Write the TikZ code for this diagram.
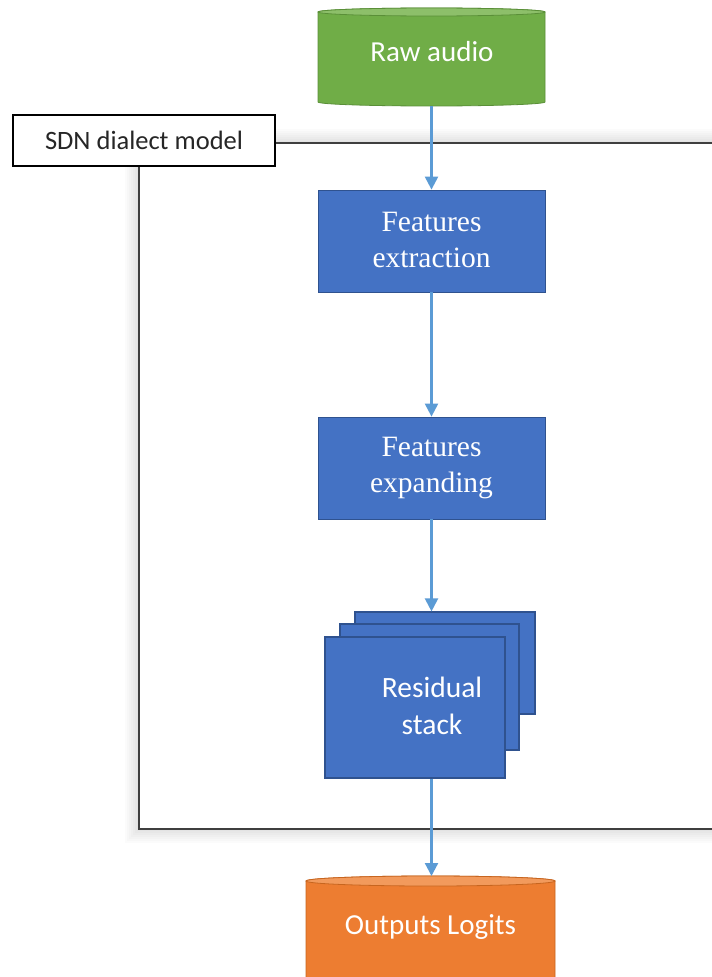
\documentclass[tikz,border=0pt]{standalone}
\usepackage{fontspec}
\setmainfont{Carlito}
\newfontfamily\serifbox{Liberation Serif}
\usetikzlibrary{arrows.meta,calc}

\definecolor{rawgreen}{HTML}{70AD47}
\definecolor{rawgreenrim}{HTML}{8DBF6A}
\definecolor{rawgreenedge}{HTML}{5A8F38}
\definecolor{outorange}{HTML}{ED7D31}
\definecolor{outorangerim}{HTML}{F29A5C}
\definecolor{outorangeedge}{HTML}{C7651F}
\definecolor{stepblue}{HTML}{4472C4}
\definecolor{stepblueedge}{HTML}{2F528F}
\definecolor{flowblue}{HTML}{5B9BD5}
\definecolor{framegray}{HTML}{3F3F3F}
\definecolor{labeltext}{HTML}{262626}

\tikzset{
  stagebox/.style={rectangle, fill=stepblue, draw=stepblueedge, line width=0.8pt,
    minimum width=227pt, minimum height=102pt, inner sep=0pt,
    text=white, align=center, font=\serifbox\fontsize{29.5}{36}\selectfont},
  stacklayer/.style={rectangle, fill=stepblue, draw=stepblueedge, line width=1.2pt, inner sep=0pt},
  cyltext/.style={inner sep=0pt, text=white, font=\fontsize{29}{35}\selectfont},
  flow/.style={draw=flowblue, line width=2.2pt, -{Triangle[length=13pt,width=13pt]}},
  modellabel/.style={rectangle, fill=white, draw=black, line width=1.6pt,
    minimum width=262pt, minimum height=51pt, inner sep=0pt,
    text=labeltext, font=\fontsize{26.5}{31}\selectfont},
}

\begin{document}
\begin{tikzpicture}[x=1pt,y=1pt]
  \useasboundingbox (0,0) rectangle (712,-977);
  \clip (0,0) rectangle (712,-977);

  % model frame with a soft outer shadow
  \coordinate (ftl) at (139,-143);
  \coordinate (fbr) at (740,-829);
  \foreach \s in {2,4,...,14}
    \fill[black, fill opacity=0.016] ($(ftl)+(-\s,\s)$) rectangle ($(fbr)+(\s,-\s)$);
  \filldraw[fill=white, draw=framegray, line width=1.8pt] (ftl) rectangle (fbr);

  % frame title
  \node[modellabel] (label) at (144,-140.5) {SDN dialect model};

  % input cylinder
  \fill[rawgreen, draw=rawgreenedge, line width=0.8pt]
    (318,-12) -- (318,-102) arc[start angle=180, end angle=360, x radius=113.5, y radius=4]
    -- (545,-12) arc[start angle=0, end angle=180, x radius=113.5, y radius=4] -- cycle;
  \filldraw[fill=rawgreenrim, draw=rawgreenedge, line width=0.8pt]
    (431.5,-12) ellipse[x radius=113.5, y radius=4];
  \node[cyltext, minimum width=227pt, minimum height=98pt] (raw) at (431.5,-57) {};
  \node[cyltext] at (432,-52) {Raw audio};

  % processing stages
  \node[stagebox] (fext) at (431.5,-241) {\raisebox{3pt}{Features}\\\raisebox{3pt}{extraction}};
  \node[stagebox] (fexp) at (431.5,-468) {\raisebox{3pt}{Features}\\\raisebox{3pt}{expanding}};

  % residual stack: three overlapping layers
  \node[stacklayer, minimum width=180pt, minimum height=102pt] (resc) at (445,-663) {};
  \node[stacklayer, minimum width=179pt, minimum height=126pt] (resb) at (429.5,-687) {};
  \node[stacklayer, minimum width=180pt, minimum height=141pt] (resa) at (415,-707.5) {};
  \node[cyltext, align=center, font=\fontsize{29.5}{37}\selectfont] (restext) at (432,-706) {Residual\\stack};

  % output cylinder
  \fill[outorange, draw=outorangeedge, line width=0.8pt]
    (306,-881) -- (306,-1000) -- (555,-1000) -- (555,-881)
    arc[start angle=0, end angle=180, x radius=124.5, y radius=5] -- cycle;
  \filldraw[fill=outorangerim, draw=outorangeedge, line width=0.8pt]
    (430.5,-881) ellipse[x radius=124.5, y radius=5];
  \coordinate (out) at (430.5,-876);
  \node[cyltext] (outtext) at (430.5,-927) {Outputs Logits};

  % data flow
  \draw[flow] (raw.south) -- (fext.north);
  \draw[flow] (fext.south) -- (fexp.north);
  \draw[flow] (fexp.south) -- (fexp.south |- resc.north);
  \draw[flow] (fexp.south |- resa.south) -- (fexp.south |- out);
\end{tikzpicture}
\end{document}
